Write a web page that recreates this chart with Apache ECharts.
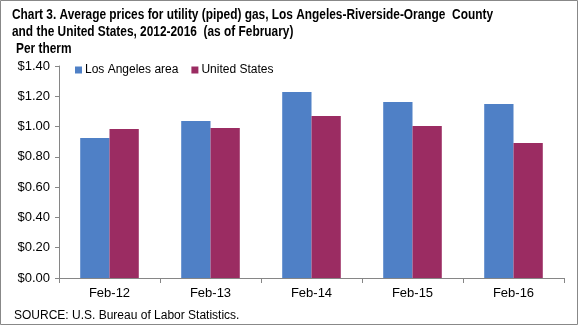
<!DOCTYPE html>
<html><head><meta charset="utf-8">
<script src="https://cdn.jsdelivr.net/npm/echarts@6/dist/echarts.min.js"></script>
<style>html,body{margin:0;padding:0;background:#fff}#c{width:579px;height:326px}</style>
</head><body><div id="c"></div>
<script>
const categories = ['Feb-12','Feb-13','Feb-14','Feb-15','Feb-16'];
const losAngeles = [0.925, 1.037, 1.229, 1.162, 1.149];
const unitedStates = [0.984, 0.991, 1.070, 1.004, 0.892];
const seriesNames = ['Los Angeles area', 'United States'];
const titleLine1 = 'Chart 3. Average prices for utility (piped) gas, Los Angeles-Riverside-Orange  County';
const titleLine2 = 'and the United States, 2012-2016  (as of February)';
const unitLabel = 'Per therm';
const sourceText = 'SOURCE: U.S. Bureau of Labor Statistics.';

const font = 'Liberation Sans, Arial, sans-serif';
const boldFont = 'bold 14px Liberation Sans, Arial, sans-serif';
const ctx = document.createElement('canvas').getContext('2d');
ctx.font = boldFont;
const titleScale = 481 / ctx.measureText(titleLine1).width;

const chart = echarts.init(document.getElementById('c'), null, {renderer:'canvas'});
function boldText(t, x, y){
  return {type:'text', x:x, y:y, scaleX:titleScale, scaleY:1,
    style:{text:t, font:boldFont, fill:'#000', textVerticalAlign:'middle', textAlign:'left'}};
}
chart.setOption({
  animation:false,
  graphic:[
    {type:'rect', shape:{x:0.5,y:0.5,width:577,height:324}, style:{fill:'none', stroke:'#888', lineWidth:1}},
    boldText(titleLine1, 12, 15),
    boldText(titleLine2, 12, 32),
    boldText(unitLabel, 16, 49),
    {type:'text', x:14, y:316, style:{text:sourceText, font:'12px Liberation Sans, Arial, sans-serif', fill:'#000', textVerticalAlign:'middle'}}
  ],
  legend:{
    left:75, top:64, padding:0, itemWidth:7, itemHeight:7, itemGap:13, icon:'rect',
    textStyle:{fontFamily:font, fontSize:12, color:'#000', padding:[0,0,0,-2]},
    data:seriesNames
  },
  grid:{left:59, right:15, top:66, bottom:48},
  xAxis:{
    type:'category', data:categories,
    axisLine:{lineStyle:{color:'#868686'}},
    axisTick:{show:true, length:5, inside:false, lineStyle:{color:'#868686'}},
    axisLabel:{fontFamily:font, fontSize:13, color:'#000', margin:9}
  },
  yAxis:{
    type:'value', min:0, max:1.4, interval:0.2,
    axisLine:{show:true, lineStyle:{color:'#868686'}},
    axisTick:{show:true, length:4, lineStyle:{color:'#868686'}},
    splitLine:{show:false},
    axisLabel:{fontFamily:font, fontSize:13, color:'#000', margin:9,
      formatter:v=>'$'+v.toFixed(2)}
  },
  series:[
    {name:seriesNames[0], type:'bar', data:losAngeles, barGap:'0%', barCategoryGap:'42%', itemStyle:{color:'#4f80c6'}},
    {name:seriesNames[1], type:'bar', data:unitedStates, itemStyle:{color:'#9b2c62'}}
  ]
});
</script></body></html>
